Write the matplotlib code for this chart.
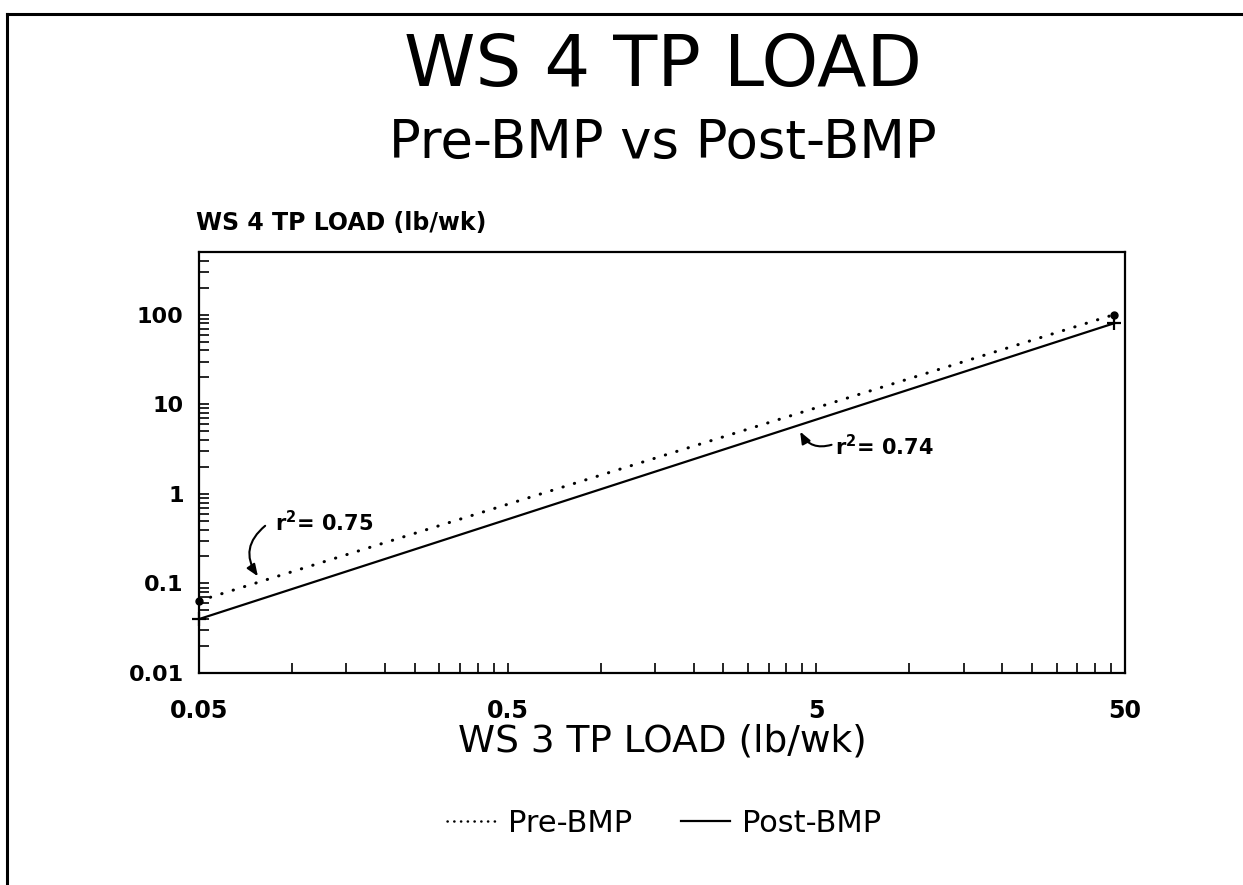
import numpy as np
import matplotlib.pyplot as plt
from matplotlib.lines import Line2D
from matplotlib.ticker import FixedLocator, NullFormatter, FixedFormatter, LogLocator

##################################################################################
# DATA
##################################################################################

x_ticks = [0.05, 0.5, 5, 50]
x_tick_labels = ["0.05", "0.5", "5", "50"]
y_ticks = [0.01, 0.1, 1, 10, 100]
y_tick_labels = ["0.01", "0.1", "1", "10", "100"]

# fitted regression lines (end points)
pre_x = [0.05, 46.0]
pre_y = [0.064, 100.0]
post_x = [0.05, 46.0]
post_y = [0.040, 80.0]

series_names = ["Pre-BMP", "Post-BMP"]
r2_values = ["0.75", "0.74"]

##################################################################################
# FIGURE
##################################################################################

plt.rcParams["font.family"] = ["DejaVu Sans"]
plt.rcParams["mathtext.default"] = "regular"

fig = plt.figure(figsize=(12.43, 8.85), dpi=100)
ax = fig.add_axes([0.1601, 0.2395, 0.7450, 0.4757])
ax.set_xscale("log"); ax.set_yscale("log")
ax.set_xlim(0.05, 50); ax.set_ylim(0.01, 500)

# regression lines
ax.plot(pre_x, pre_y, color="black", lw=2.2, linestyle=(0, (0.1, 3.8)),
        dash_capstyle="round")
ax.plot(post_x, post_y, color="black", lw=1.6, linestyle="-")
ax.plot(pre_x, pre_y, linestyle="none", marker="o", ms=5, color="black", clip_on=False)
ax.plot(post_x, post_y, linestyle="none", marker="+", ms=10, mew=1.6, color="black", clip_on=False)

# ticks
minor_x = [0.05 * k * 10 ** n for n in range(3) for k in range(2, 10)]
ax.xaxis.set_major_locator(FixedLocator(x_ticks))
ax.xaxis.set_major_formatter(FixedFormatter(x_tick_labels))
ax.xaxis.set_minor_locator(FixedLocator(minor_x))
ax.xaxis.set_minor_formatter(NullFormatter())
ax.yaxis.set_major_locator(FixedLocator(y_ticks))
ax.yaxis.set_major_formatter(FixedFormatter(y_tick_labels))
ax.yaxis.set_minor_locator(LogLocator(base=10, subs=range(2, 10), numticks=20))
ax.yaxis.set_minor_formatter(NullFormatter())
ax.tick_params(which="both", direction="in", length=7, width=1.2, top=False, right=False)
ax.tick_params(axis="x", which="major", pad=19, labelsize=17)
ax.tick_params(axis="y", which="major", pad=11, labelsize=16)
for lab in ax.get_xticklabels() + ax.get_yticklabels():
    lab.set_fontweight("bold")
for s in ax.spines.values():
    s.set_linewidth(1.6)

# r^2 annotations with curved arrows
arrow_style = "-|>,head_length=0.7,head_width=0.28"
ax.text(0.088, 0.476, "r$^{2}$= " + r2_values[0], fontsize=15, fontweight="bold", va="center")
ax.annotate("", xy=(0.0776, 0.12), xytext=(0.0819, 0.44),
            arrowprops=dict(arrowstyle=arrow_style, color="black", lw=1.5,
                            connectionstyle="arc3,rad=0.45", shrinkA=0, shrinkB=0))
ax.text(5.74, 3.35, "r$^{2}$= " + r2_values[1], fontsize=15, fontweight="bold", va="center")
ax.annotate("", xy=(4.43, 4.95), xytext=(5.6, 3.53),
            arrowprops=dict(arrowstyle=arrow_style, color="black", lw=1.5,
                            connectionstyle="arc3,rad=-0.4", shrinkA=0, shrinkB=0))

# titles and labels
fig.text(0.533, 0.925, "WS 4 TP LOAD", fontsize=52, ha="center", va="center")
fig.text(0.533, 0.838, "Pre-BMP vs Post-BMP", fontsize=38, ha="center", va="center")
fig.text(0.158, 0.748, "WS 4 TP LOAD (lb/wk)", fontsize=17, fontweight="bold", ha="left", va="center")
fig.text(0.533, 0.162, "WS 3 TP LOAD (lb/wk)", fontsize=27, ha="center", va="center")

# legend with a denser dotted sample, as in the original
handles = [Line2D([0], [0], color="black", lw=1.8, linestyle=(0, (0.1, 2.6)), dash_capstyle="round"),
           Line2D([0], [0], color="black", lw=1.6, linestyle="-")]
fig.legend(handles, series_names, loc="center", bbox_to_anchor=(0.534, 0.070), ncol=2,
           frameon=False, fontsize=22, handlelength=1.6, columnspacing=1.6, handletextpad=0.4)

# outer page frame (left and top edges)
fig.add_artist(Line2D([0.0058, 0.0058], [0.0, 0.984], transform=fig.transFigure, color="black", lw=2.2))
fig.add_artist(Line2D([0.0058, 1.0], [0.984, 0.984], transform=fig.transFigure, color="black", lw=2.2))

fig.savefig("out.png", dpi=100)
